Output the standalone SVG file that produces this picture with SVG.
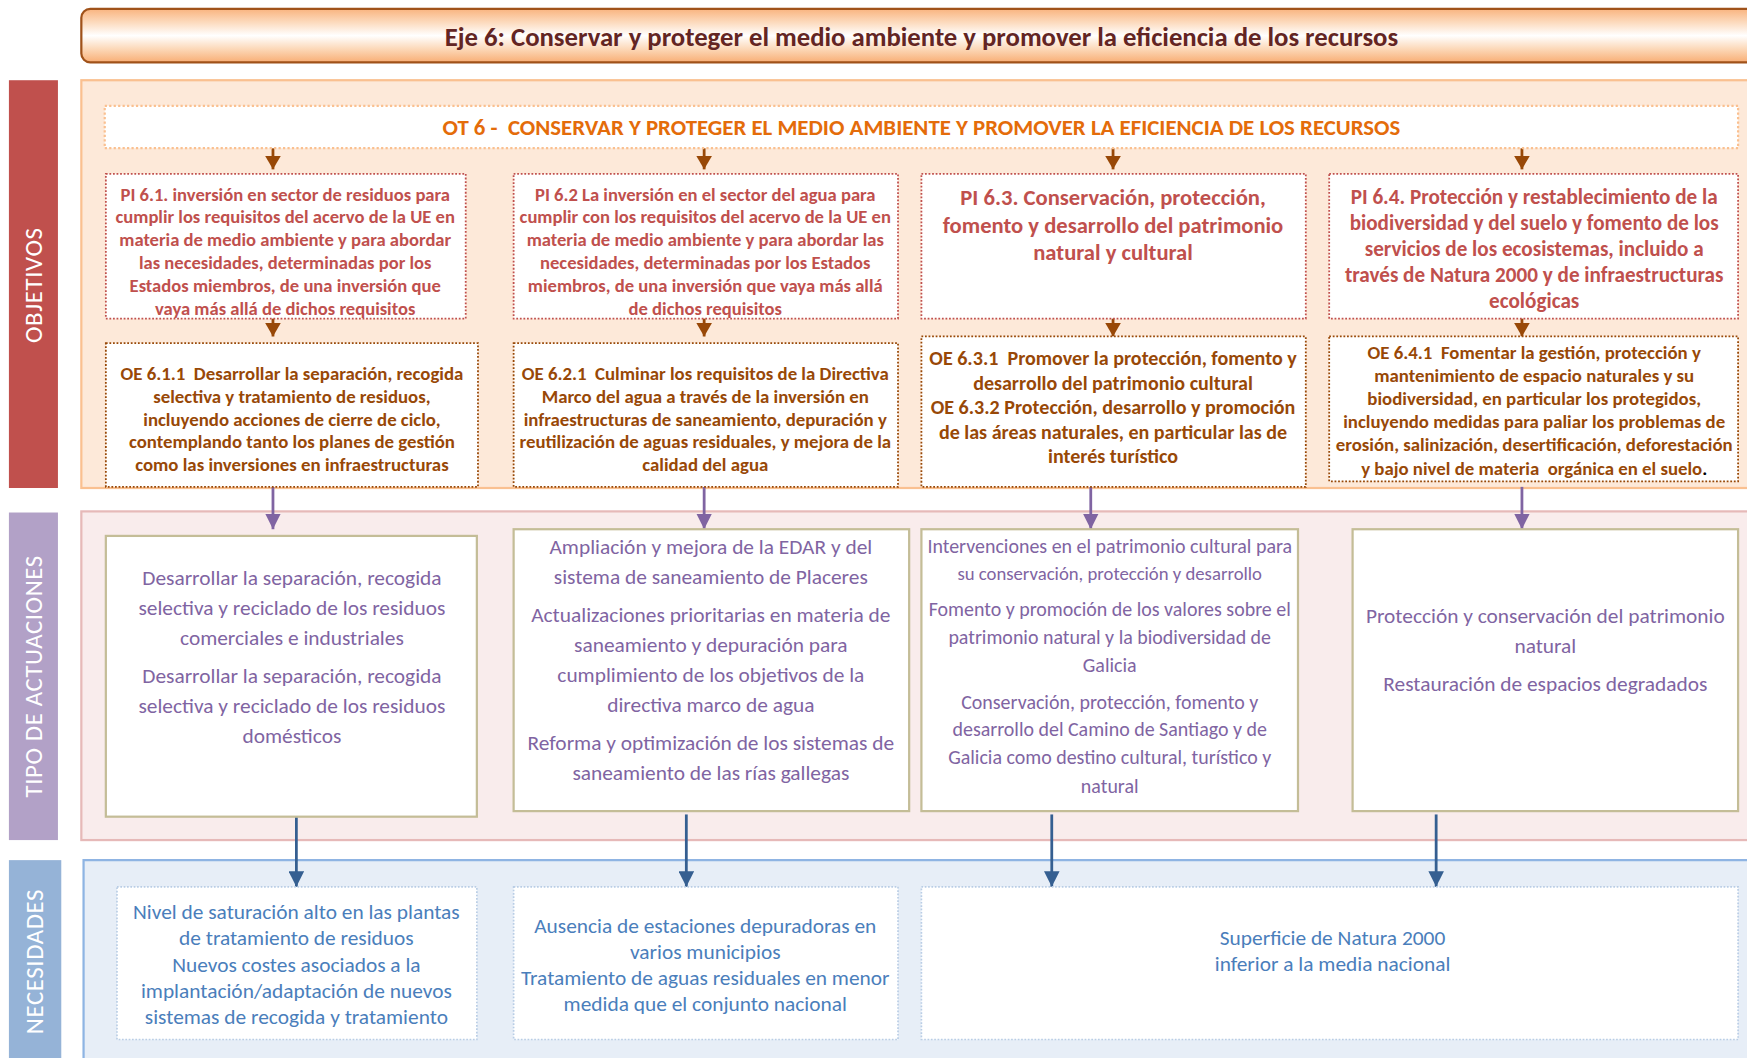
<svg xmlns="http://www.w3.org/2000/svg" width="1747" height="1058" viewBox="0 0 1747 1058">
<style>
text{font-family:Carlito,Lato,"Liberation Sans",sans-serif;text-anchor:middle;white-space:pre}
.side{font-size:22.4px;fill:#ffffff;letter-spacing:0.5px}
.pi{font-size:16.7px;font-weight:bold;fill:#C0504D}
.pib{font-size:20.3px;font-weight:bold;fill:#C0504D}
.oe{font-size:16.9px;font-weight:bold;fill:#984807}
.oeb{font-size:18px;font-weight:bold;fill:#984807}
.ta{font-size:19.2px;fill:#8064A2}
.tas{font-size:17.9px;fill:#8064A2}
.ne{font-size:19.2px;fill:#4A7EBB}
.boxpi{fill:#fff;stroke:#C0504D;stroke-width:1.6;stroke-dasharray:1.6 1.6}
.boxoe{fill:#fff;stroke:#984807;stroke-width:1.6;stroke-dasharray:1.6 1.6}
.boxta{fill:#fff;stroke:#C4BD97;stroke-width:2}
.boxne{fill:#fff;stroke:#B9CDE5;stroke-width:1.5;stroke-dasharray:1.5 1.5}
.abr{stroke:#984807;stroke-width:2.5;fill:none;marker-end:url(#mbr)}
.apu{stroke:#8064A2;stroke-width:2.5;fill:none;marker-end:url(#mpu)}
.abl{stroke:#355F91;stroke-width:2.5;fill:none;marker-end:url(#mbl)}
</style>
<defs>
<linearGradient id="gt" x1="0" y1="0" x2="0" y2="1">
<stop offset="0" stop-color="#F9B47F"/>
<stop offset="0.25" stop-color="#FCDABD"/>
<stop offset="0.5" stop-color="#FFFFFF"/>
<stop offset="0.75" stop-color="#FCD8B8"/>
<stop offset="1" stop-color="#F8AE75"/>
</linearGradient>
<marker id="mbr" markerUnits="userSpaceOnUse" markerWidth="14" markerHeight="14" refX="12" refY="7" orient="auto" viewBox="0 0 12 14"><path d="M0,0 L12,7 L0,14 z" fill="#984807"/></marker>
<marker id="mpu" markerUnits="userSpaceOnUse" markerWidth="14" markerHeight="14" refX="14" refY="7" orient="auto" viewBox="0 0 14 14"><path d="M0,0 L14,7 L0,14 z" fill="#8064A2"/></marker>
<marker id="mbl" markerUnits="userSpaceOnUse" markerWidth="14" markerHeight="14" refX="14" refY="7" orient="auto" viewBox="0 0 14 14"><path d="M0,0 L14,7 L0,14 z" fill="#355F91"/></marker>
</defs>
<rect width="1747" height="1058" fill="#ffffff"/>
<g transform="scale(1.11416)">
<g id="title">
<rect x="73" y="8" width="1510" height="48" rx="8" fill="url(#gt)" stroke="#A0521A" stroke-width="2"/>
<text x="827" y="41.5" style="font-size:24px;font-weight:bold;fill:#632523">Eje 6: Conservar y proteger el medio ambiente y promover la eficiencia de los recursos</text>
</g>
<g id="label-objetivos">
<rect x="8" y="72" width="44" height="366" fill="#C0504D"/>
<text class="side" transform="translate(38 256) rotate(-90)">OBJETIVOS</text>
</g>
<g id="label-tipo">
<rect x="8" y="460" width="44" height="294" fill="#B2A1C7"/>
<text class="side" transform="translate(38 607) rotate(-90)">TIPO DE ACTUACIONES</text>
</g>
<g id="label-necesidades">
<rect x="8" y="772" width="47" height="180" fill="#95B3D7"/>
<text class="side" transform="translate(39 863) rotate(-90)">NECESIDADES</text>
</g>
<g id="panel-objetivos"><rect x="73" y="72" width="1510" height="366" fill="#FDE9D9" stroke="#FAC090" stroke-width="2"/></g>
<g id="panel-tipo"><rect x="73" y="459" width="1510" height="295" fill="#F9ECEC" stroke="#E6B9B8" stroke-width="2"/></g>
<g id="panel-necesidades"><rect x="75" y="772" width="1510" height="190" fill="#E7EEF7" stroke="#8EB4E3" stroke-width="2"/></g>

<g id="connectors">
<line class="abr" x1="245" y1="133" x2="245" y2="152"/>
<line class="abr" x1="632" y1="133" x2="632" y2="152"/>
<line class="abr" x1="999" y1="133" x2="999" y2="152"/>
<line class="abr" x1="1366" y1="133" x2="1366" y2="152"/>
<line class="abr" x1="245" y1="280" x2="245" y2="302"/>
<line class="abr" x1="632" y1="280" x2="632" y2="302"/>
<line class="abr" x1="999" y1="280" x2="999" y2="302"/>
<line class="abr" x1="1366" y1="280" x2="1366" y2="302"/>
<line class="apu" x1="245" y1="437" x2="245" y2="475"/>
<line class="apu" x1="632" y1="437" x2="632" y2="475"/>
<line class="apu" x1="979" y1="437" x2="979" y2="475"/>
<line class="apu" x1="1366" y1="437" x2="1366" y2="475"/>
<line class="abl" x1="266" y1="733" x2="266" y2="796"/>
<line class="abl" x1="616" y1="731" x2="616" y2="796"/>
<line class="abl" x1="944" y1="731" x2="944" y2="796"/>
<line class="abl" x1="1289" y1="731" x2="1289" y2="796"/>
</g>

<g id="ot6">
<rect x="94" y="95" width="1466" height="38" fill="#fff" stroke="#FAC090" stroke-width="2" stroke-dasharray="2 2"/>
<text x="827" y="121" style="font-size:20.5px;font-weight:bold;fill:#E46C0A">OT 6 -  CONSERVAR Y PROTEGER EL MEDIO AMBIENTE Y PROMOVER LA EFICIENCIA DE LOS RECURSOS</text>
</g>

<g id="pi61">
<rect class="boxpi" x="95" y="156" width="323" height="130"/>
<text class="pi" x="256"><tspan x="256" y="180">PI 6.1. inversión en sector de residuos para</tspan><tspan x="256" y="200.5">cumplir los requisitos del acervo de la UE en</tspan><tspan x="256" y="221">materia de medio ambiente y para abordar</tspan><tspan x="256" y="241.5">las necesidades, determinadas por los</tspan><tspan x="256" y="262">Estados miembros, de una inversión que</tspan><tspan x="256" y="282.5">vaya más allá de dichos requisitos</tspan></text>
</g>
<g id="pi62">
<rect class="boxpi" x="461" y="156" width="345" height="130"/>
<text class="pi" x="633"><tspan x="633" y="180">PI 6.2 La inversión en el sector del agua para</tspan><tspan x="633" y="200.5">cumplir con los requisitos del acervo de la UE en</tspan><tspan x="633" y="221">materia de medio ambiente y para abordar las</tspan><tspan x="633" y="241.5">necesidades, determinadas por los Estados</tspan><tspan x="633" y="262">miembros, de una inversión que vaya más allá</tspan><tspan x="633" y="282.5">de dichos requisitos</tspan></text>
</g>
<g id="pi63">
<rect class="boxpi" x="827" y="156" width="345" height="130"/>
<text class="pib" x="999"><tspan x="999" y="184">PI 6.3. Conservación, protección,</tspan><tspan x="999" y="209">fomento y desarrollo del patrimonio</tspan><tspan x="999" y="233">natural y cultural</tspan></text>
</g>
<g id="pi64">
<rect class="boxpi" x="1193" y="156" width="367" height="130"/>
<text class="pib" x="1377" style="font-size:19px"><tspan x="1377" y="183">PI 6.4. Protección y restablecimiento de la</tspan><tspan x="1377" y="206.5">biodiversidad y del suelo y fomento de los</tspan><tspan x="1377" y="230">servicios de los ecosistemas, incluido a</tspan><tspan x="1377" y="253">través de Natura 2000 y de infraestructuras</tspan><tspan x="1377" y="276">ecológicas</tspan></text>
</g>

<g id="oe611">
<rect class="boxoe" x="95" y="308" width="334" height="129"/>
<text class="oe" x="262"><tspan x="262" y="341">OE 6.1.1  Desarrollar la separación, recogida</tspan><tspan x="262" y="361.5">selectiva y tratamiento de residuos,</tspan><tspan x="262" y="382">incluyendo acciones de cierre de ciclo,</tspan><tspan x="262" y="402.5">contemplando tanto los planes de gestión</tspan><tspan x="262" y="423">como las inversiones en infraestructuras</tspan></text>
</g>
<g id="oe621">
<rect class="boxoe" x="461" y="308" width="345" height="129"/>
<text class="oe" x="633"><tspan x="633" y="341">OE 6.2.1  Culminar los requisitos de la Directiva</tspan><tspan x="633" y="361.5">Marco del agua a través de la inversión en</tspan><tspan x="633" y="382">infraestructuras de saneamiento, depuración y</tspan><tspan x="633" y="402.5">reutilización de aguas residuales, y mejora de la</tspan><tspan x="633" y="423">calidad del agua</tspan></text>
</g>
<g id="oe63">
<rect class="boxoe" x="827" y="302" width="345" height="135"/>
<text class="oeb" x="999"><tspan x="999" y="328">OE 6.3.1  Promover la protección, fomento y</tspan><tspan x="999" y="350">desarrollo del patrimonio cultural</tspan><tspan x="999" y="372">OE 6.3.2 Protección, desarrollo y promoción</tspan><tspan x="999" y="394">de las áreas naturales, en particular las de</tspan><tspan x="999" y="416">interés turístico</tspan></text>
</g>
<g id="oe641">
<rect class="boxoe" x="1193" y="302" width="367" height="130"/>
<text class="oe" x="1377"><tspan x="1377" y="322">OE 6.4.1  Fomentar la gestión, protección y</tspan><tspan x="1377" y="343">mantenimiento de espacio naturales y su</tspan><tspan x="1377" y="363.5">biodiversidad, en particular los protegidos,</tspan><tspan x="1377" y="384">incluyendo medidas para paliar los problemas de</tspan><tspan x="1377" y="404.5">erosión, salinización, desertificación, deforestación</tspan><tspan x="1377" y="426">y bajo nivel de materia  orgánica en el suelo<tspan style="fill:#000">.</tspan></tspan></text>
</g>

<g id="act1">
<rect class="boxta" x="95" y="481" width="333" height="252"/>
<text class="ta" x="262"><tspan x="262" y="525">Desarrollar la separación, recogida</tspan><tspan x="262" y="552">selectiva y reciclado de los residuos</tspan><tspan x="262" y="579">comerciales e industriales</tspan><tspan x="262" y="613">Desarrollar la separación, recogida</tspan><tspan x="262" y="640">selectiva y reciclado de los residuos</tspan><tspan x="262" y="667">domésticos</tspan></text>
</g>
<g id="act2">
<rect class="boxta" x="461" y="475" width="355" height="253"/>
<text class="ta" x="638"><tspan x="638" y="497">Ampliación y mejora de la EDAR y del</tspan><tspan x="638" y="524">sistema de saneamiento de Placeres</tspan><tspan x="638" y="558">Actualizaciones prioritarias en materia de</tspan><tspan x="638" y="585">saneamiento y depuración para</tspan><tspan x="638" y="612">cumplimiento de los objetivos de la</tspan><tspan x="638" y="639">directiva marco de agua</tspan><tspan x="638" y="673">Reforma y optimización de los sistemas de</tspan><tspan x="638" y="700">saneamiento de las rías gallegas</tspan></text>
</g>
<g id="act3">
<rect class="boxta" x="827" y="475" width="338" height="253"/>
<text class="tas" x="996"><tspan x="996" y="496">Intervenciones en el patrimonio cultural para</tspan><tspan x="996" y="521" style="font-size:16.8px">su conservación, protección y desarrollo</tspan><tspan x="996" y="553">Fomento y promoción de los valores sobre el</tspan><tspan x="996" y="578">patrimonio natural y la biodiversidad de</tspan><tspan x="996" y="603">Galicia</tspan><tspan x="996" y="636">Conservación, protección, fomento y</tspan><tspan x="996" y="661">desarrollo del Camino de Santiago y de</tspan><tspan x="996" y="686">Galicia como destino cultural, turístico y</tspan><tspan x="996" y="712">natural</tspan></text>
</g>
<g id="act4">
<rect class="boxta" x="1214" y="475" width="346" height="253"/>
<text class="ta" x="1387"><tspan x="1387" y="559">Protección y conservación del patrimonio</tspan><tspan x="1387" y="586">natural</tspan><tspan x="1387" y="620">Restauración de espacios degradados</tspan></text>
</g>

<g id="nec1">
<rect class="boxne" x="105" y="796" width="323" height="137"/>
<text class="ne" x="266"><tspan x="266" y="825">Nivel de saturación alto en las plantas</tspan><tspan x="266" y="848.5">de tratamiento de residuos</tspan><tspan x="266" y="872">Nuevos costes asociados a la</tspan><tspan x="266" y="895.5">implantación/adaptación de nuevos</tspan><tspan x="266" y="919">sistemas de recogida y tratamiento</tspan></text>
</g>
<g id="nec2">
<rect class="boxne" x="461" y="796" width="345" height="137"/>
<text class="ne" x="633"><tspan x="633" y="837">Ausencia de estaciones depuradoras en</tspan><tspan x="633" y="860.5">varios municipios</tspan><tspan x="633" y="884">Tratamiento de aguas residuales en menor</tspan><tspan x="633" y="907.5">medida que el conjunto nacional</tspan></text>
</g>
<g id="nec3">
<rect class="boxne" x="827" y="796" width="733" height="137"/>
<text class="ne" x="1196"><tspan x="1196" y="848">Superficie de Natura 2000</tspan><tspan x="1196" y="871.5">inferior a la media nacional</tspan></text>
</g>
</g>
</svg>
